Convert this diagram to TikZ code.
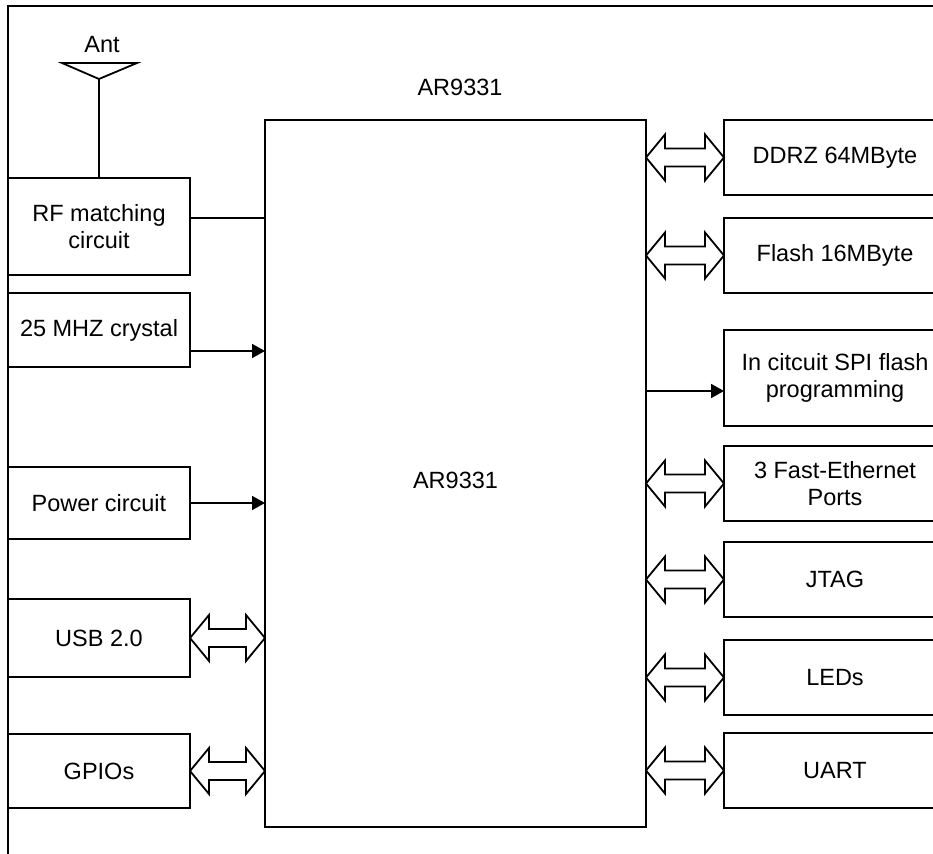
\documentclass[tikz,border=0pt]{standalone}
\usepackage{fontspec}
\setmainfont{Liberation Sans}
\usetikzlibrary{arrows.meta,calc}
% hollow double-headed bus arrow between two points on one level
\newcommand\busarrow[2]{%
  \draw[bus] let \p1=(#1),\p2=(#2) in (\p1)--(\x1+19pt,\y1+23pt)--(\x1+19pt,\y1+9pt)
  --(\x2-19pt,\y1+9pt)--(\x2-19pt,\y1+23pt)--(\x2,\y1)--(\x2-19pt,\y1-23pt)
  --(\x2-19pt,\y1-9pt)--(\x1+19pt,\y1-9pt)--(\x1+19pt,\y1-23pt)--cycle;}
\begin{document}
\begin{tikzpicture}[x=1pt,y=-1pt,line width=1.8pt,line join=miter,
  font=\fontsize{23.5}{27}\selectfont,
  box/.style={draw,rectangle,inner sep=0pt,outer sep=0pt,align=center},
  lbox/.style={box,minimum width=182pt},
  rbox/.style={box,minimum width=222pt},
  sig/.style={-{Triangle[length=13pt,width=14pt]}},
  bus/.style={fill=white}]
\useasboundingbox (0,0) rectangle (933,853);
\clip (0,0) rectangle (933,853);
%frame
\draw (8,860)--(8,6)--(940,6);
%chip
\node[box,minimum width=381pt,minimum height=707pt,text height=30pt] (chip) at (455.5,473.5) {AR9331};
\node (title) at (460,87) {AR9331};
%left side
\node[lbox,minimum height=97pt] (rf) at (99,226.5) {RF matching\\circuit};
\node[lbox,minimum height=74pt] (xtal) at (99,330) {25 MHZ crystal};
\node[lbox,minimum height=72pt] (pwr) at (99,503) {Power circuit};
\node[lbox,minimum height=78pt] (usb) at (99,638) {USB 2.0};
\node[lbox,minimum height=74pt] (gpio) at (99,771) {GPIOs};
%right side
\foreach \b/\y/\h/\t in {ddr/157.5/75/DDRZ 64MByte,flash/255.5/75/Flash 16MByte,
  spi/378/96/{In citcuit SPI flash\\programming},eth/483.5/75/{3 Fast-Ethernet\\Ports},
  jtag/579.5/75/JTAG,leds/677.5/75/LEDs,uart/770.5/75/UART}
  \node[rbox,minimum height=\h pt] (\b) at (835,\y) {\t};
%antenna
\path ([yshift=99pt]rf.north) coordinate (ant);
\draw (ant)--(rf.north);
\draw (ant)--++(-37,-16)--++(75,0)--cycle;
\node (antlbl) at (102,45) {Ant};
%links
\path ([yshift=8.5pt]rf.east) coordinate (ro) ([yshift=-21pt]xtal.east) coordinate (xo)
  ([yshift=-13pt]spi.west) coordinate (si);
\draw (ro)--(chip.west |- ro);
\draw[sig] (xo)--(chip.west |- xo);
\draw[sig] (pwr.east)--(chip.west |- pwr.east);
\draw[sig] (chip.east |- si)--(si);
\foreach \b in {usb,gpio} \busarrow{\b.east}{chip.west |- \b.east};
\foreach \b in {ddr,flash,eth,jtag,leds,uart} \busarrow{chip.east |- \b.west}{\b.west};
\end{tikzpicture}
\end{document}
